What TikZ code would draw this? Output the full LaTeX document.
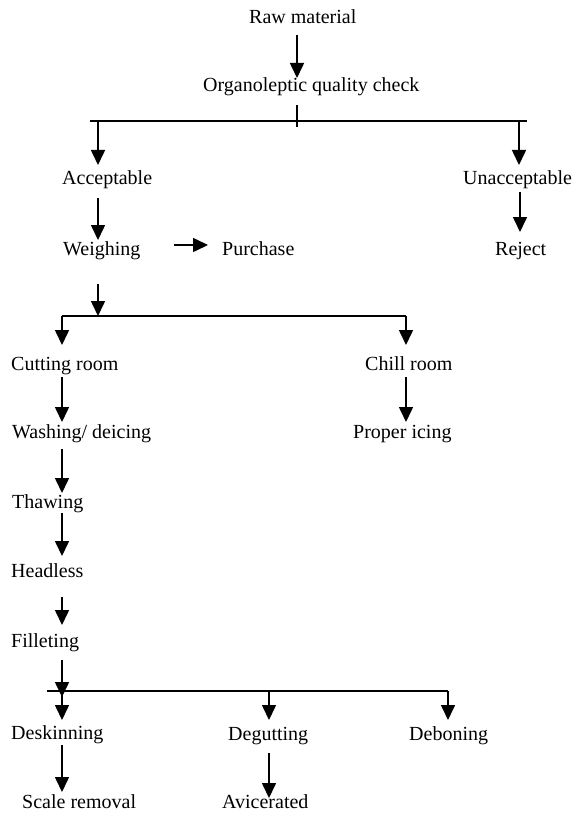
\documentclass[tikz,border=0pt]{standalone}
\usepackage{fontspec}
\setmainfont{Liberation Serif}
\usetikzlibrary{arrows.meta}
\begin{document}
\begin{tikzpicture}[x=1pt,y=-1pt,
  lbl/.style={anchor=base west,inner sep=0pt,font=\fontsize{20}{22}\selectfont},
  arr/.style={line width=1.6pt,-{Triangle[width=14pt,length=15pt]}},
  ln/.style={line width=1.5pt}]
\useasboundingbox (0,0) rectangle (573,813);
% nodes
\node[lbl] (raw) at (249,24) {Raw material};
\node[lbl] (org) at (203,92) {Organoleptic quality check};
\node[lbl] (acc) at (62,185) {Acceptable};
\node[lbl] (unacc) at (463,185) {Unacceptable};
\node[lbl] (wei) at (63,255) {Weighing};
\node[lbl] (pur) at (222,255) {Purchase};
\node[lbl] (rej) at (495,255) {Reject};
\node[lbl] (cut) at (11,370) {Cutting room};
\node[lbl] (chill) at (365,370) {Chill room};
\node[lbl] (wash) at (12,438) {Washing/ deicing};
\node[lbl] (prop) at (353,438) {Proper icing};
\node[lbl] (thaw) at (12,508) {Thawing};
\node[lbl] (head) at (11,577) {Headless};
\node[lbl] (fill) at (11,647) {Filleting};
\node[lbl] (desk) at (11,739) {Deskinning};
\node[lbl] (degut) at (228,740) {Degutting};
\node[lbl] (debon) at (409,740) {Deboning};
\node[lbl] (scale) at (22,808) {Scale removal};
\node[lbl] (avic) at (222,808) {Avicerated};
% junction coordinates
\coordinate (h1l) at (90,121);
\coordinate (h1r) at (527,121);
\coordinate (h1a) at (98,121);
\coordinate (h1u) at (519,121);
\coordinate (h2l) at (62,316);
\coordinate (h2r) at (406,316);
\coordinate (h2w) at (98,316);
\coordinate (h3l) at (47,691);
\coordinate (h3r) at (448,691);
\coordinate (h3f) at (62,697);
\coordinate (h3d) at (62,691);
\coordinate (h3g) at (269,691);
% connectors
\draw[arr] ([shift={(48,11)}]raw.base west) -- ([shift={(94,-14)}]org.base west);
\draw[ln] ([shift={(94,13)}]org.base west) -- ([shift={(94,35)}]org.base west);
\draw[ln] (h1l) -- (h1r);
\draw[arr] (h1a) -- ([shift={(36,-20)}]acc.base west);
\draw[arr] (h1u) -- ([shift={(56,-20)}]unacc.base west);
\draw[arr] ([shift={(36,13)}]acc.base west) -- ([shift={(35,-15)}]wei.base west);
\draw[arr] ([shift={(57,7)}]unacc.base west) -- ([shift={(25,-23)}]rej.base west);
\draw[arr] ([shift={(111,-10)}]wei.base west) -- ([shift={(-14,-10)}]pur.base west);
\draw[arr] ([shift={(35,29)}]wei.base west) -- (h2w);
\draw[ln] (h2l) -- (h2r);
\draw[arr] (h2l) -- ([shift={(51,-25)}]cut.base west);
\draw[arr] (h2r) -- ([shift={(41,-25)}]chill.base west);
\draw[arr] ([shift={(51,7)}]cut.base west) -- ([shift={(50,-16)}]wash.base west);
\draw[arr] ([shift={(41,7)}]chill.base west) -- ([shift={(53,-16)}]prop.base west);
\draw[arr] ([shift={(50,11)}]wash.base west) -- ([shift={(50,-15)}]thaw.base west);
\draw[arr] ([shift={(50,5)}]thaw.base west) -- ([shift={(51,-21)}]head.base west);
\draw[arr] ([shift={(51,20)}]head.base west) -- ([shift={(51,-22)}]fill.base west);
\draw[arr] ([shift={(51,13)}]fill.base west) -- (h3f);
\draw[ln] (h3l) -- (h3r);
\draw[arr] (h3d) -- ([shift={(51,-19)}]desk.base west);
\draw[arr] (h3g) -- ([shift={(41,-20)}]degut.base west);
\draw[arr] (h3r) -- ([shift={(39,-20)}]debon.base west);
\draw[arr] ([shift={(51,6)}]desk.base west) -- ([shift={(40,-16)}]scale.base west);
\draw[arr] ([shift={(41,13)}]degut.base west) -- ([shift={(47,-10)}]avic.base west);
\end{tikzpicture}
\end{document}
